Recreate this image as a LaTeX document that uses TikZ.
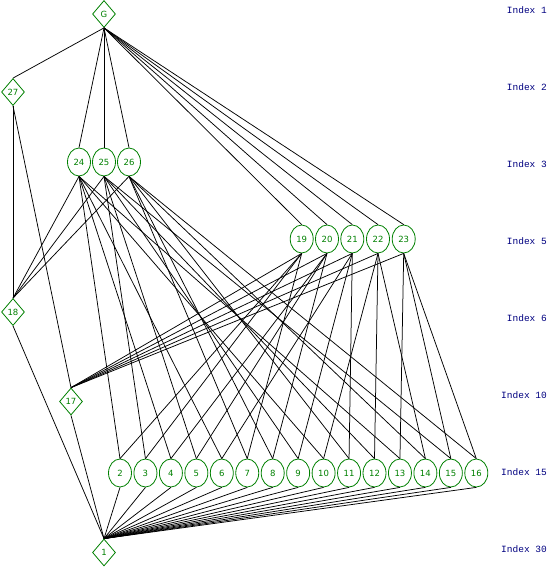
\documentclass[tikz,border=0pt]{standalone}
\usepackage{fontspec}
\setmainfont{DejaVu Sans}
\newfontfamily\monof{Liberation Mono}
\usetikzlibrary{shapes.geometric}
\definecolor{ngreen}{RGB}{0,128,0}
\definecolor{idxblue}{RGB}{0,0,128}
\begin{document}
\begin{tikzpicture}[x=1pt,y=-1pt,
  circ/.style={ellipse, draw=ngreen, line width=0.8pt, minimum width=23pt, minimum height=28pt, inner sep=0pt, text=ngreen, font=\fontsize{8.5}{8.5}\selectfont},
  dia/.style={diamond, draw=ngreen, line width=0.8pt, minimum width=23pt, minimum height=27pt, inner sep=0pt, text=ngreen, font=\fontsize{8.5}{8.5}\selectfont},
  idx/.style={anchor=east, text=idxblue, inner sep=0pt, font=\monof\fontsize{9.5}{9.5}\selectfont},
  edge/.style={line width=0.75pt, black}]
\useasboundingbox (0,0) rectangle (548,567);
% nodes
\node[dia] (G) at (104,14) {G};
\node[dia] (n27) at (13,92) {27};
\node[circ] (n24) at (79,162) {24};
\node[circ] (n25) at (104,162) {25};
\node[circ] (n26) at (129,162) {26};
\node[circ] (n19) at (301.7,239) {19};
\node[circ] (n20) at (327,239) {20};
\node[circ] (n21) at (352.3,239) {21};
\node[circ] (n22) at (378,239) {22};
\node[circ] (n23) at (403.7,239) {23};
\node[dia] (n18) at (13,312) {18};
\node[dia] (n17) at (71,401.5) {17};
\foreach \k in {2,...,16} {
  \node[circ] (n\k) at ({120+25.45*(\k-2)},473) {\k};
}
\node[dia] (n1) at (104,552.5) {1};
% index labels
\node[idx] (i1) at (547,10) {Index 1};
\node[idx] (i2) at (547,87) {Index 2};
\node[idx] (i3) at (547,164) {Index 3};
\node[idx] (i5) at (547,241) {Index 5};
\node[idx] (i6) at (547,318) {Index 6};
\node[idx] (i10) at (547,395) {Index 10};
\node[idx] (i15) at (547,472) {Index 15};
\node[idx] (i30) at (547,549) {Index 30};
% edges
\foreach \t in {n27,n24,n25,n26,n19,n20,n21,n22,n23}
  \draw[edge] (G.south) -- (\t.north);
\draw[edge] (n27.south) -- (n18.north);
\draw[edge] (n27.south) -- (n17.north);
\foreach \s in {n24,n25,n26}
  \draw[edge] (\s.south) -- (n18.north);
\foreach \s in {n19,n20,n21,n22,n23}
  \draw[edge] (\s.south) -- (n17.north);
\foreach \t in {2,4,6,10,13} \draw[edge] (n24.south) -- (n\t.north);
\foreach \t in {3,5,9,12,15} \draw[edge] (n25.south) -- (n\t.north);
\foreach \t in {7,8,11,14,16} \draw[edge] (n26.south) -- (n\t.north);
\foreach \t in {2,3,7} \draw[edge] (n19.south) -- (n\t.north);
\foreach \t in {4,5,8} \draw[edge] (n20.south) -- (n\t.north);
\foreach \t in {6,9,11} \draw[edge] (n21.south) -- (n\t.north);
\foreach \t in {10,12,14} \draw[edge] (n22.south) -- (n\t.north);
\foreach \t in {13,15,16} \draw[edge] (n23.south) -- (n\t.north);
\draw[edge] (n18.south) -- (n1.north);
\draw[edge] (n17.south) -- (n1.north);
\foreach \k in {2,...,16} \draw[edge] (n\k.south) -- (n1.north);
\end{tikzpicture}
\end{document}
